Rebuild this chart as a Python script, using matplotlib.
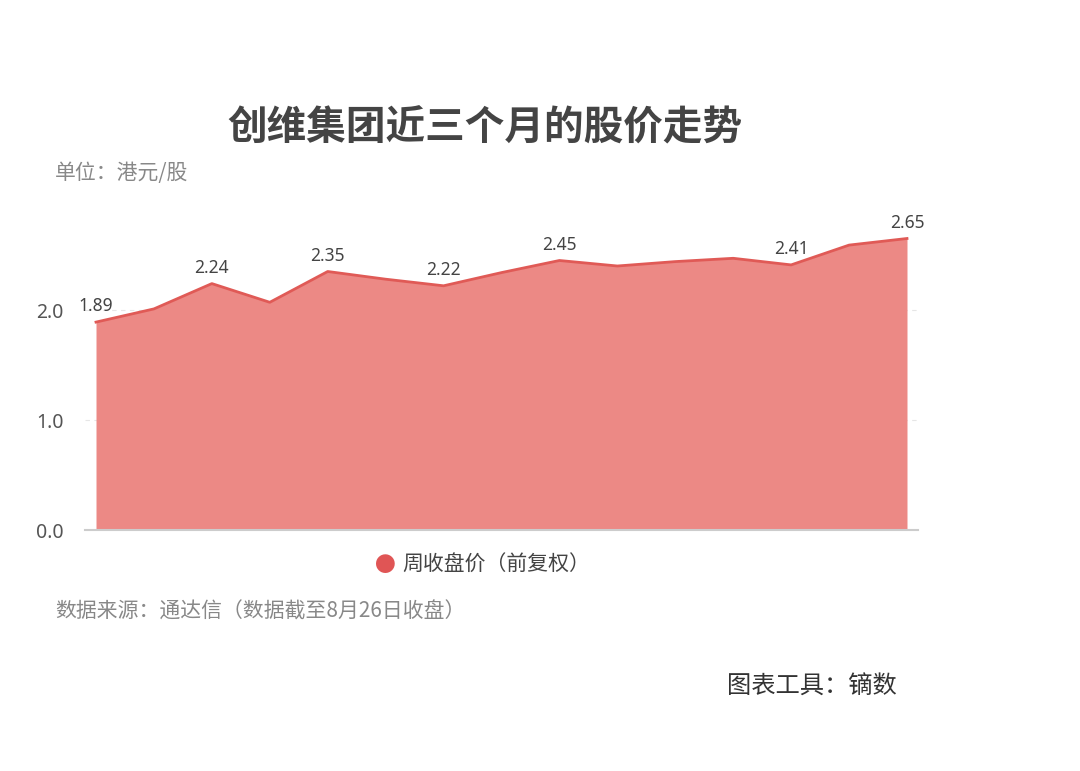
import matplotlib
matplotlib.use("Agg")
import matplotlib.pyplot as plt
import numpy as np

plt.rcParams['font.family'] = ['Noto Sans CJK SC', 'DejaVu Sans']

# weekly close (forward adjusted), HKD per share
weeks = list(range(15))
close = [1.89, 2.01, 2.24, 2.07, 2.35, 2.28, 2.22, 2.34, 2.45, 2.40, 2.44, 2.47, 2.41, 2.59, 2.65]
labeled = [0, 2, 4, 6, 8, 12, 14]
yticks = [0.0, 1.0, 2.0]
ytick_labels = ['0.0', '1.0', '2.0']

title = '创维集团近三个月的股价走势'
unit = '单位：港元/股'
series_name = '周收盘价（前复权）'
source = '数据来源：通达信（数据截至8月26日收盘）'
tool = '图表工具：镝数'

fill_c = '#ec8985'
line_c = '#e05a56'
num_font = ['Noto Sans', 'DejaVu Sans']

fig = plt.figure(figsize=(10.8, 7.71), dpi=100)
ax = fig.add_axes([85 / 1080, 1 - 530 / 771, (918 - 85) / 1080, 330 / 771])

ax.fill_between(weeks, close, 0, color=fill_c, linewidth=0, zorder=2)
ax.plot(weeks, close, color=line_c, linewidth=2, zorder=3)

for i in labeled:
    ax.annotate(f'{close[i]:.2f}', (weeks[i], close[i]), xytext=(0, 5),
                textcoords='offset points', ha='center', va='bottom',
                fontsize=12.5, color='#444444', family=num_font, zorder=4)

ax.set_xlim(-0.19, 14.19)
ax.set_ylim(0, 3.0)
ax.set_yticks(yticks)
ax.set_yticklabels(ytick_labels, family=num_font)
ax.set_xticks([])
ax.tick_params(axis='y', length=0, pad=25, labelsize=14, labelcolor='#555555')
for lbl in ax.get_yticklabels():
    lbl.set_horizontalalignment('center')
for s in ['top', 'right', 'left']:
    ax.spines[s].set_visible(False)
ax.spines['bottom'].set_color('#cccccc')
ax.spines['bottom'].set_linewidth(1.5)
for y in yticks[1:]:
    ax.axhline(y, color='#e6e6e6', linewidth=0.8, linestyle=(0, (4, 4)), zorder=1)

fig.text(485 / 1080, 1 - 128 / 771, title, ha='center', va='center',
         fontsize=28.5, fontweight='bold', color='#444444')
fig.text(55 / 1080, 1 - 173 / 771, unit, ha='left', va='center',
         fontsize=15, color='#888888')

# legend
fig.text(385 / 1080, 1 - 565 / 771, '●', ha='center', va='center',
         fontsize=15, color='#e05555')
fig.text(402 / 1080, 1 - 565 / 771, series_name, ha='left', va='center',
         fontsize=15, color='#444444')

fig.text(55 / 1080, 1 - 612 / 771, source, ha='left', va='center',
         fontsize=15, color='#888888')
fig.text(727 / 1080, 1 - 687 / 771, tool, ha='left', va='center',
         fontsize=17.5, color='#333333')

fig.savefig('out.png', dpi=100, facecolor='white')
